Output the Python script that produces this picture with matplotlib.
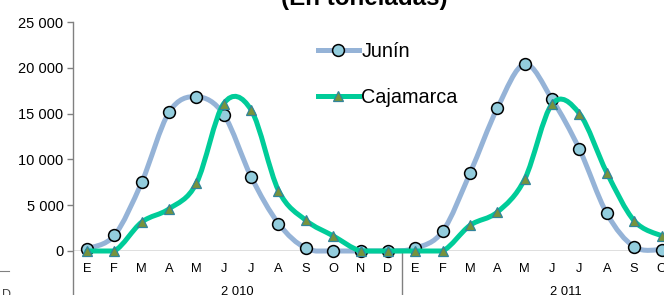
import matplotlib
matplotlib.use("Agg")
import matplotlib.pyplot as plt
import matplotlib.transforms as mtransforms
from matplotlib.path import Path
from matplotlib.patches import PathPatch
from matplotlib.lines import Line2D
import numpy as np

plt.rcParams['font.family'] = ['Liberation Sans', 'DejaVu Sans']

months = ["E", "F", "M", "A", "M", "J", "J", "A", "S", "O", "N", "D",
          "E", "F", "M", "A", "M", "J", "J", "A", "S", "O"]
years = ["2 010", "2 011"]
junin = [250, 1700, 7500, 15150, 16850, 14900, 8100, 3000, 300, 0, 0, 0,
         300, 2150, 8500, 15600, 20400, 16550, 11100, 4100, 450, 150]
cajamarca = [0, 0, 3150, 4600, 7400, 16100, 15400, 6600, 3350, 1650, 0, 0,
             0, 0, 2800, 4250, 7850, 16050, 15000, 8550, 3300, 1650]
title = "(En toneladas)"
yticks = [0, 5000, 10000, 15000, 20000, 25000]

W, H = 664, 295
fig = plt.figure(figsize=(W / 100, H / 100), dpi=100)

def fx(px):
    return px / W

def fy(py):
    return (H - py) / H

x0 = 73.3
step = 27.36
left = fx(x0)
right_px = x0 + 24 * step
ax = fig.add_axes([left, fy(251), fx(right_px) - left, fy(22) - fy(251)])
ax.set_xlim(-0.5, 23.5)
ax.set_ylim(0, 25000)

for s in ["top", "right", "left", "bottom"]:
    ax.spines[s].set_visible(False)

def smooth_path(xs, ys):
    pts = np.column_stack([xs, ys]).astype(float)
    n = len(pts)
    verts = [pts[0]]
    codes = [Path.MOVETO]
    for i in range(n - 1):
        p0 = pts[i - 1] if i > 0 else pts[i]
        p1 = pts[i]
        p2 = pts[i + 1]
        p3 = pts[i + 2] if i + 2 < n else pts[i + 1]
        if p1[1] == p2[1]:
            c1 = p1 + (p2 - p1) / 3.0
            c2 = p2 - (p2 - p1) / 3.0
        else:
            c1 = p1 + (p2 - p0) / 6.0
            c2 = p2 - (p3 - p1) / 6.0
        verts += [c1, c2, p2]
        codes += [Path.CURVE4] * 3
    return Path(verts, codes)

xs = np.arange(len(months))

# zero axis line
ax.axhline(0, color="black", lw=0.9, zorder=1)

trans_xa = mtransforms.blended_transform_factory(ax.transData, ax.transAxes)
ax.add_line(Line2D([-0.5, -0.5], [1, -0.25], transform=trans_xa, color="#808080", lw=1.0, clip_on=False))
ax.add_line(Line2D([11.5, 11.5], [0, -0.25], transform=trans_xa, color="#808080", lw=1.0, clip_on=False))

jun_color = "#95B3D7"
caj_color = "#00CC99"

p1 = PathPatch(smooth_path(xs, junin), fill=False, edgecolor=jun_color, lw=3.6,
               capstyle="round", joinstyle="round", zorder=3, clip_on=False)
ax.add_patch(p1)
ax.plot(xs, junin, ls="none", marker="o", ms=8.5, mfc="#93CDDD", mec="black",
        mew=1.1, zorder=4, clip_on=False)

p2 = PathPatch(smooth_path(xs, cajamarca), fill=False, edgecolor=caj_color, lw=3.6,
               capstyle="round", joinstyle="round", zorder=5, clip_on=False)
ax.add_patch(p2)
ax.plot(xs, cajamarca, ls="none", marker="^", ms=7.8, mfc="#77933C", mec="#31859C",
        mew=0.9, zorder=6, clip_on=False)

# y ticks
ax.set_yticks(yticks)
ax.set_yticklabels([f"{v:,}".replace(",", " ") for v in yticks], fontsize=10.5)
ax.tick_params(axis="y", direction="out", length=4, width=1, color="#808080", pad=3)

# x ticks
ax.set_xticks(xs)
ax.set_xticklabels(months, fontsize=9.3)
ax.tick_params(axis="x", length=0, pad=9)

for i, yl in enumerate(years):
    ax.text(5.5 + 12 * i, -0.155, yl, transform=trans_xa, ha="center", va="top", fontsize=9.3)

# legend
handles = [Line2D([], [], color=jun_color, lw=3.6, marker="o", ms=8.5, mfc="#93CDDD", mec="black", mew=1.1),
           Line2D([], [], color=caj_color, lw=3.6, marker="^", ms=7.8, mfc="#77933C", mec="#31859C", mew=0.9)]
fig.legend(handles, ["Junín", "Cajamarca"], loc="upper left", bbox_to_anchor=(fx(318), fy(42)),
           frameon=False, fontsize=14.3, handlelength=2.06, handletextpad=0.12, labelspacing=1.38,
           borderpad=0, borderaxespad=0)

# title (partially cut at top)
fig.text(fx(364), fy(5), title, ha="center", va="baseline", fontsize=17.4, fontweight="bold")

# fragments at left edge
fig.add_artist(Line2D([0, fx(9)], [fy(271), fy(271)], color="#808080", lw=0.8))
fig.text(fx(2), fy(298), "D", ha="left", va="baseline", fontsize=9, color="#404040")

fig.savefig("out.png", dpi=100)
